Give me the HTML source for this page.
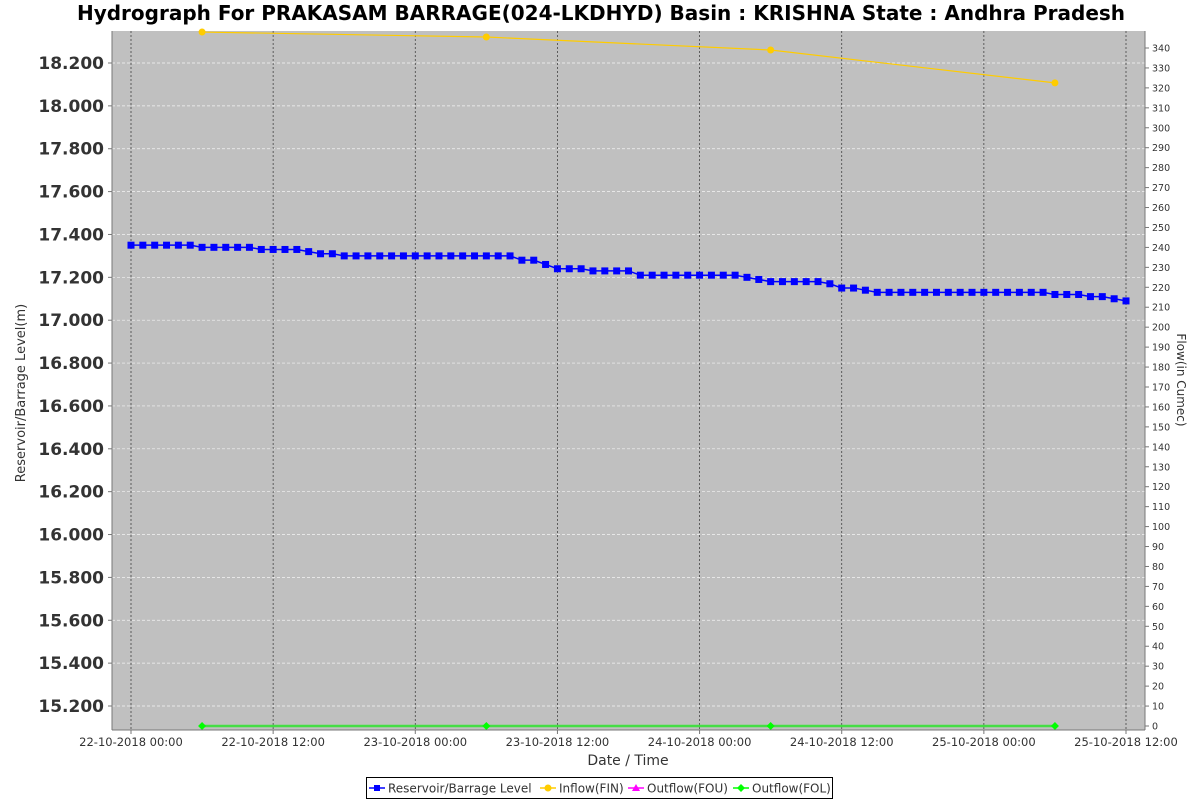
<!DOCTYPE html>
<html><head><meta charset="utf-8"><style>
body{margin:0;background:#fff;}
svg{display:block;font-family:"DejaVu Sans","Liberation Sans",sans-serif;}
</style></head><body>
<svg id="chart" width="1200" height="800" xmlns="http://www.w3.org/2000/svg">
<text x="601" y="20" text-anchor="middle" font-size="20" font-weight="bold" fill="#000">Hydrograph For PRAKASAM BARRAGE(024-LKDHYD) Basin : KRISHNA State : Andhra Pradesh</text>
<rect x="112" y="31" width="1033" height="699" fill="#c0c0c0"/>
<g id="grid"></g>
<g id="series"></g>
<line x1="112" y1="31" x2="112" y2="730" stroke="#777"/>
<line x1="112" y1="730" x2="1145" y2="730" stroke="#777"/>
<line x1="1145" y1="31" x2="1145" y2="730" stroke="#777"/>
<g id="axes"></g>
<text x="628" y="765" text-anchor="middle" font-size="14" fill="#333">Date / Time</text>
<text transform="translate(25,393) rotate(-90)" text-anchor="middle" font-size="13" fill="#333">Reservoir/Barrage Level(m)</text>
<text transform="translate(1177,380) rotate(90)" text-anchor="middle" font-size="12" fill="#333">Flow(in Cumec)</text>
<g>
<rect x="366.5" y="777.5" width="466" height="21" fill="#fff" stroke="#000"/>
<g><line x1="369" y1="788" x2="385" y2="788" stroke="#00f" stroke-width="1.5"/><rect x="374" y="785" width="6" height="6" fill="#00f"/><text x="388" y="792.5" font-size="12" fill="#333">Reservoir/Barrage Level</text></g>
<g><line x1="540" y1="788" x2="556" y2="788" stroke="#fc0" stroke-width="1.5"/><circle cx="548" cy="788" r="3.5" fill="#fc0"/><text x="559" y="792.5" font-size="12" fill="#333">Inflow(FIN)</text></g>
<g><line x1="628" y1="788" x2="644" y2="788" stroke="#f0f" stroke-width="1.5"/><polygon points="636,784 640,791 632,791" fill="#f0f"/><text x="647" y="792.5" font-size="12" fill="#333">Outflow(FOU)</text></g>
<g><line x1="733" y1="788" x2="749" y2="788" stroke="#0f0" stroke-width="1.5"/><polygon points="741,784 745,788 741,792 737,788" fill="#0f0"/><text x="752" y="792.5" font-size="12" fill="#333">Outflow(FOL)</text></g>
</g>
</svg>
<script>
const levelValues=[17.35,17.35,17.35,17.35,17.35,17.35,17.34,17.34,17.34,17.34,17.34,17.33,17.33,17.33,17.33,17.32,17.31,17.31,
17.30,17.30,17.30,17.30,17.30,17.30,17.30,17.30,17.30,17.30,17.30,17.30,17.30,17.30,17.30,17.28,17.28,17.26,17.24,17.24,17.24,
17.23,17.23,17.23,17.23,17.21,17.21,17.21,17.21,17.21,17.21,17.21,17.21,17.21,17.20,17.19,17.18,17.18,17.18,17.18,17.18,17.17,
17.15,17.15,17.14,17.13,17.13,17.13,17.13,17.13,17.13,17.13,17.13,17.13,17.13,17.13,17.13,17.13,17.13,17.13,17.12,17.12,17.12,17.11,17.11,17.10,17.09];
const flowHours=[6,30,54,78];
const inflowValues=[348,345.5,339,322.5];
const outflowFOU=[0,0,0,0];
const outflowFOL=[0,0,0,0];
const leftTicks=[15.2,15.4,15.6,15.8,16.0,16.2,16.4,16.6,16.8,17.0,17.2,17.4,17.6,17.8,18.0,18.2];
const rightTicks=[0,10,20,30,40,50,60,70,80,90,100,110,120,130,140,150,160,170,180,190,200,210,220,230,240,250,260,270,280,290,300,310,320,330,340];
const xTickHours=[0,12,24,36,48,60,72,84];
const xTickLabels=["22-10-2018 00:00","22-10-2018 12:00","23-10-2018 00:00","23-10-2018 12:00","24-10-2018 00:00","24-10-2018 12:00","25-10-2018 00:00","25-10-2018 12:00"];

const NS="http://www.w3.org/2000/svg";
const xS=h=>131+h*(995/84);
const yL=v=>63+(18.2-v)*(643/3.0);
const yR=v=>726-v*(678/340);
function mk(tag,attrs,parent){const e=document.createElementNS(NS,tag);for(const k in attrs)e.setAttribute(k,attrs[k]);parent.appendChild(e);return e;}
const grid=document.getElementById('grid'),axes=document.getElementById('axes'),ser=document.getElementById('series');

leftTicks.forEach(v=>{const y=yL(v);
const g=mk('line',{x1:112,x2:1145,y1:y,y2:y,stroke:'#f4f4f4','stroke-dasharray':'3,2','stroke-width':0.7},grid);


mk('line',{x1:108,x2:112,y1:y,y2:y,stroke:'#777'},axes);
const t=mk('text',{x:104,y:y+6,'text-anchor':'end','font-size':17,'font-weight':'bold',fill:'#333'},axes);t.textContent=v.toFixed(3);

});
rightTicks.forEach(v=>{const y=yR(v);
mk('line',{x1:1145,x2:1149,y1:y,y2:y,stroke:'#777'},axes);
const t=mk('text',{x:1152,y:y+3.5,'font-size':9.5,fill:'#333'},axes);t.textContent=v;

});
xTickHours.forEach((h,i)=>{const x=xS(h);
const g=mk('line',{x1:x,x2:x,y1:31,y2:730,stroke:'#444','stroke-dasharray':'2,2','stroke-width':0.8},grid);


mk('line',{x1:x,x2:x,y1:730,y2:734,stroke:'#777'},axes);
const t=mk('text',{x:x,y:746,'text-anchor':'middle','font-size':11.5,fill:'#333'},axes);t.textContent=xTickLabels[i];

});

function line(pts,color,w,name){const p=mk('polyline',{points:pts.map(q=>q.join(',')).join(' '),fill:'none',stroke:color,'stroke-width':w},ser);

}
const inPts=flowHours.map((h,i)=>[xS(h),yR(inflowValues[i])]);
line(inPts,'#fc0',1.2,'inflow-line');
inPts.forEach(p=>{const c=mk('circle',{cx:p[0],cy:p[1],r:3.5,fill:'#fc0'},ser);

});
const fouPts=flowHours.map((h,i)=>[xS(h),yR(outflowFOU[i])]);
line(fouPts,'#f0f',1.5,'outflow-fou-line');
const folPts=flowHours.map((h,i)=>[xS(h),yR(outflowFOL[i])]);
line(folPts,'#4d4',2.5,'outflow-fol-line');
folPts.forEach(p=>{const d=mk('polygon',{points:`${p[0]},${p[1]-4} ${p[0]+4},${p[1]} ${p[0]},${p[1]+4} ${p[0]-4},${p[1]}`,fill:'#0f0'},ser);

});
const lvPts=levelValues.map((v,i)=>[xS(i),yL(v)]);
line(lvPts,'#00f',1.5,'level-line');
lvPts.forEach(p=>{const r=mk('rect',{x:p[0]-3.5,y:p[1]-3.5,width:7,height:7,fill:'#00f'},ser);

});
</script>
</body></html>
